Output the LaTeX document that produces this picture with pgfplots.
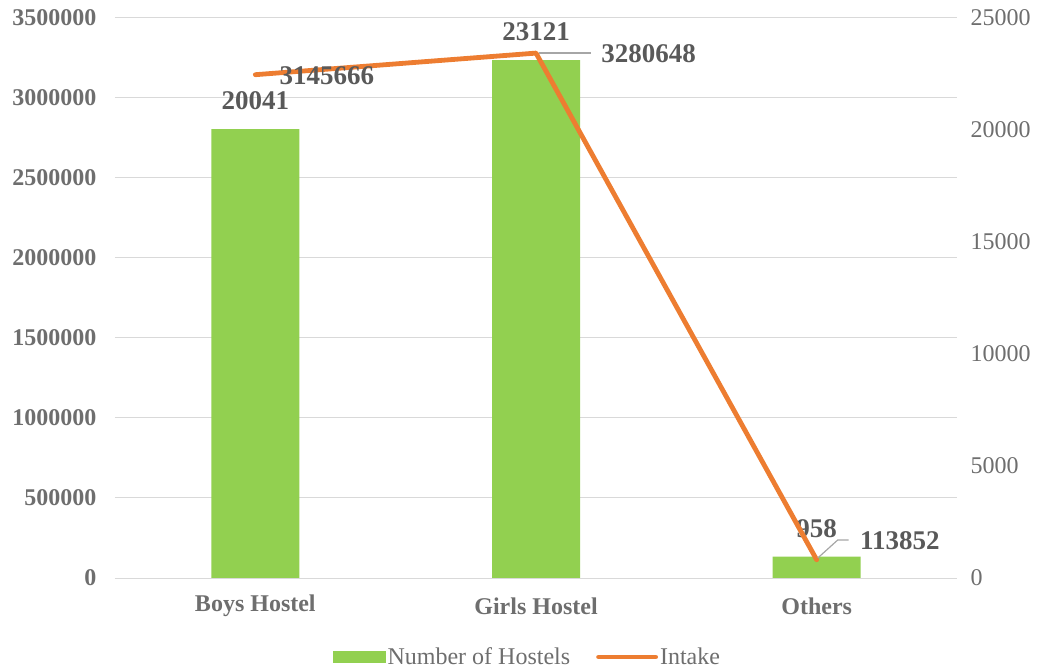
\documentclass[border=0pt]{standalone}
\usepackage{fontspec}
\setmainfont{Liberation Serif}
\usepackage{pgfplots}
\usepackage{pgfplotstable}
\pgfplotsset{compat=1.18}
\definecolor{barG}{HTML}{92D050}
\definecolor{lineO}{HTML}{ED7D31}
\definecolor{txt}{HTML}{595959}
\definecolor{tickc}{HTML}{6E6E6E}
\definecolor{gridc}{HTML}{D9D9D9}
\definecolor{leadc}{HTML}{A6A6A6}
\newcommand\tfont{\fontsize{24bp}{28bp}\selectfont}
\newcommand\dfont{\fontsize{27bp}{31bp}\selectfont\bfseries}

\pgfplotstableread{
x y lab
0 20041 20041
1 23121 23121
2 958 958
}\bars
\pgfplotstableread{
x y lab dx dy
0 3145666 3145666 22 -1.3
1 3280648 3280648 63 -1
2 113852 113852 41 19
}\intake

\pgfplotsset{base/.style={scale only axis, width=842bp, height=560bp,
  xmin=-0.5, xmax=2.5, at={(0,0)}, anchor=south west, major tick length=0pt,
  axis line style={draw=none}, scaled y ticks=false, scaled x ticks=false}}

\begin{document}
\begin{tikzpicture}
\path[use as bounding box] (-115bp,-93bp) rectangle (933bp,578bp);
% left axis with grid and categories
\begin{axis}[base, ymin=0, ymax=3500000,
  ytick pos=left, xtick pos=bottom,
  ytick={0,500000,1000000,1500000,2000000,2500000,3000000,3500000},
  yticklabels={0,500000,1000000,1500000,2000000,2500000,3000000,3500000},
  ymajorgrids, grid style={gridc, line width=1bp},
  xtick={0,1,2}, xticklabels={Boys Hostel,Girls Hostel,Others},
  xticklabel style={font=\tfont\bfseries, text=tickc, anchor=center, yshift=-28bp},
  yticklabel style={font=\tfont\bfseries, text=tickc, anchor=east, xshift=-15bp},
]
\addplot[draw=none, forget plot] coordinates {(0,0)};
\end{axis}
% right axis with bars
\begin{axis}[base, ymin=0, ymax=25000,
  hide x axis, ytick pos=right, yticklabel pos=right,
  ytick={0,5000,10000,15000,20000,25000},
  yticklabels={0,5000,10000,15000,20000,25000},
  yticklabel style={font=\tfont, text=tickc, anchor=west, xshift=10bp},
]
\addplot[ybar, bar width=88bp, fill=barG, draw=none,
  point meta=explicit symbolic, nodes near coords,
  nodes near coords style={font=\dfont, text=txt, anchor=center, yshift=28bp}]
  table[x=x, y=y, meta=lab]{\bars};
\end{axis}
% line axis
\begin{axis}[base, ymin=0, ymax=3500000, hide axis,
  legend columns=2,
  legend style={at={(0.49,-0.141)}, anchor=center, draw=none, fill=none,
    font=\tfont, text=tickc,
    /tikz/every even column/.append style={column sep=24bp}},
]
\addlegendimage{legend image code/.code={\fill[barG] (0bp,-5.5bp) rectangle (52bp,5.5bp);}}
\addlegendentry{Number of Hostels}
\addplot[lineO, line width=4.8bp, line cap=round, line join=round,
  point meta=explicit symbolic, nodes near coords,
  visualization depends on={\thisrow{dx}\as\dx},
  visualization depends on={\thisrow{dy}\as\dy},
  nodes near coords style={font=\dfont, text=txt, anchor=west, inner sep=0pt,
    xshift=\dx bp, yshift=\dy bp},
  legend image code/.code={\draw[lineO, line width=4.8bp, line cap=round] (0bp,0bp) -- (57bp,0bp);}]
  table[x=x, y=y, meta=lab]{\intake};
\addlegendentry{Intake}
\addplot[leadc, line width=1.2bp, forget plot] coordinates {(1.011,3280648) (1.196,3280648)};
\addplot[leadc, line width=1.2bp, forget plot] coordinates {(2.004,125000) (2.075,237500) (2.114,237500)};
\end{axis}
\end{tikzpicture}
\end{document}
